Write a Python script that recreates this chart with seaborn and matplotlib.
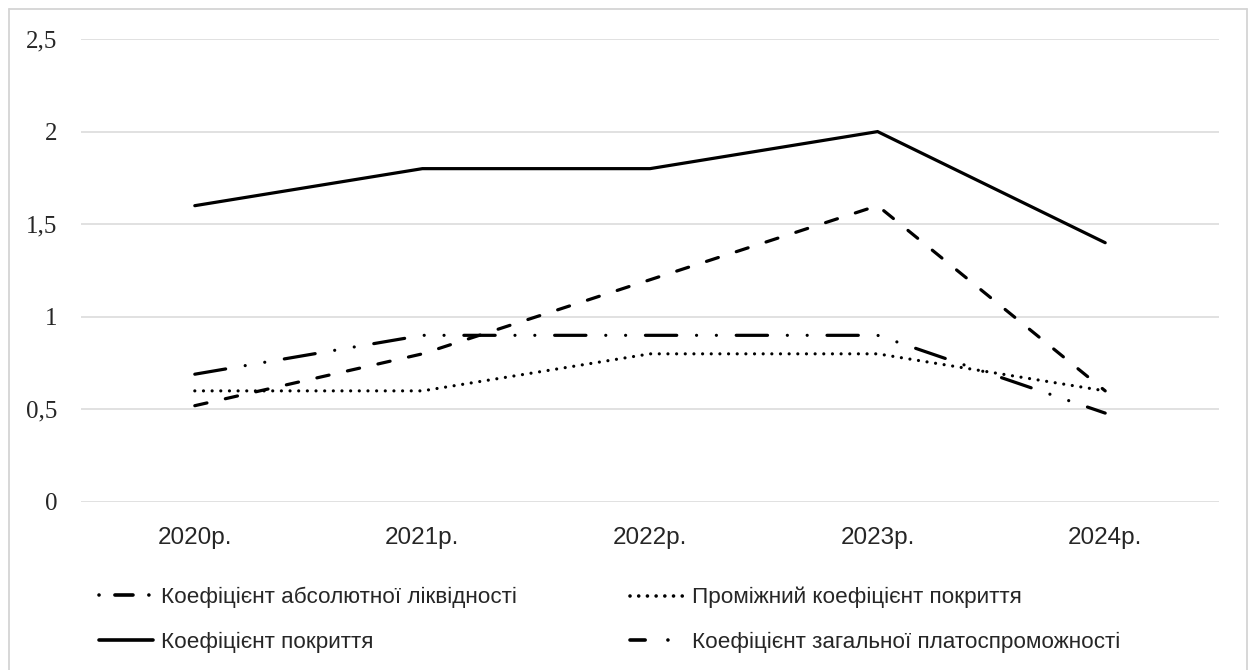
import pandas as pd
import seaborn as sns
import matplotlib.pyplot as plt
from matplotlib.ticker import FuncFormatter
from matplotlib.lines import Line2D

# values
years = ['2020р.', '2021р.', '2022р.', '2023р.', '2024р.']
series_names = [
    'Коефіцієнт абсолютної ліквідності',
    'Проміжний коефіцієнт покриття',
    'Коефіцієнт покриття',
    'Коефіцієнт загальної платоспроможності',
]
abs_liquidity = [0.52, 0.8, 1.2, 1.6, 0.6]
interim_coverage = [0.6, 0.6, 0.8, 0.8, 0.6]
coverage = [1.6, 1.8, 1.8, 2.0, 1.4]
solvency = [0.69, 0.9, 0.9, 0.9, 0.48]

df = pd.DataFrame({
    'year': years * 4,
    'value': abs_liquidity + interim_coverage + coverage + solvency,
    'series': [s for s in series_names for _ in years],
})

# dash patterns (in linewidth units) for the plot and for the legend samples
dash_map = {
    series_names[0]: (3.9, 5.9),
    series_names[1]: (0.01, 2.7),
    series_names[2]: '',
    series_names[3]: (9.8, 6.2, 0.01, 6.2, 0.01, 6.2),
}
legend_dash = {
    series_names[0]: (0.01, 4.4, 5, 4.4),
    series_names[1]: (0.01, 2.4),
    series_names[2]: (None, None),
    series_names[3]: (4.2, 6.3, 0.01, 10),
}

sns.set_style('white')
plt.rcParams['font.family'] = ['Liberation Sans', 'DejaVu Sans']

W, H = 1249, 670
fig = plt.figure(figsize=(W / 100, H / 100), dpi=100)
ax = fig.add_axes([81 / W, 1 - 502 / H, (1219 - 81) / W, (502 - 39) / H])

sns.lineplot(data=df, x='year', y='value', style='series', style_order=series_names,
             dashes=dash_map, color='black', linewidth=2.3, legend=False, ax=ax,
             dash_capstyle='round', solid_capstyle='round', solid_joinstyle='miter')

ax.set_ylim(0, 2.5)
ax.set_xlim(-0.5, 4.5)
ax.set_yticks([0, 0.5, 1, 1.5, 2, 2.5])
ax.yaxis.set_major_formatter(FuncFormatter(lambda v, p: f'{v:g}'.replace('.', ',')))
ax.grid(axis='y', color='#d9d9d9', linewidth=1.1)
ax.grid(axis='x', visible=False)
ax.set_axisbelow(True)
for sp in ax.spines.values():
    sp.set_visible(False)
ax.set_xlabel('')
ax.set_ylabel('')
ax.tick_params(axis='y', length=0, pad=17)
ax.tick_params(axis='x', length=0, pad=18)
for t in ax.get_yticklabels():
    t.set_fontfamily('Liberation Serif')
    t.set_fontsize(18)
for t in ax.get_xticklabels():
    t.set_fontsize(17.5)

# legend in two columns below the plot
def mk(name):
    return Line2D([], [], color='black', linewidth=2.6, dashes=legend_dash[name],
                  dash_capstyle='round', solid_capstyle='round')

common = dict(frameon=False, fontsize=16.2, handlelength=2.4, handletextpad=0.35,
              labelspacing=1.05, borderpad=0, borderaxespad=0, loc='upper left')
fig.legend([mk(series_names[0]), mk(series_names[2])], [series_names[0], series_names[2]],
           bbox_to_anchor=(99 / W, 1 - 587 / H), **common)
fig.legend([mk(series_names[1]), mk(series_names[3])], [series_names[1], series_names[3]],
           bbox_to_anchor=(630 / W, 1 - 587 / H), **common)

# chart frame
bc = '#d4d4d4'
fig.add_artist(Line2D([8.5 / W, 8.5 / W], [0, 1 - 8.5 / H], transform=fig.transFigure, color=bc, lw=1.3))
fig.add_artist(Line2D([8.5 / W, 1246.5 / W], [1 - 8.5 / H, 1 - 8.5 / H], transform=fig.transFigure, color=bc, lw=1.3))
fig.add_artist(Line2D([1246.5 / W, 1246.5 / W], [0, 1 - 8.5 / H], transform=fig.transFigure, color=bc, lw=1.3))

fig.savefig('out.png', dpi=100, facecolor='white')
